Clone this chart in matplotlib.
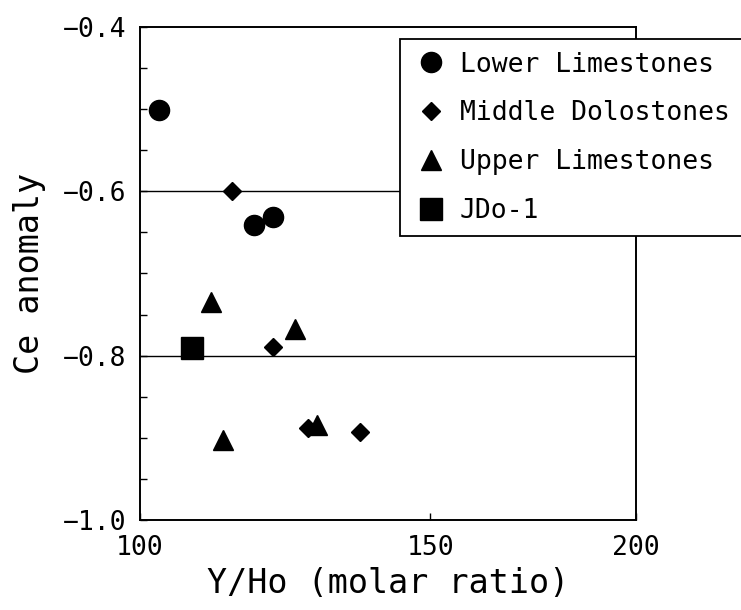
import matplotlib
matplotlib.use("Agg")
import matplotlib.pyplot as plt
from matplotlib.ticker import MultipleLocator, FixedLocator, FixedFormatter, NullLocator

# Data (Y/Ho molar ratio, Ce anomaly)
lower_x = [102.7, 117.2, 120.5]
lower_y = [-0.501, -0.641, -0.631]

middle_x = [113.7, 120.5, 126.5, 135.9]
middle_y = [-0.599, -0.790, -0.888, -0.893]

upper_x = [110.5, 124.2, 112.3, 128.0]
upper_y = [-0.735, -0.768, -0.903, -0.884]

jdo_x = [107.6]
jdo_y = [-0.791]

labels = ["Lower Limestones", "Middle Dolostones", "Upper Limestones", "JDo-1"]
x_ticks = [100, 150, 200]
x_ticklabels = ["100", "150", "200"]
y_ticks = [-1.0, -0.8, -0.6, -0.4]
y_ticklabels = ["\u22121.0", "\u22120.8", "\u22120.6", "\u22120.4"]

plt.rcParams['font.family'] = ['DejaVu Sans Mono', 'DejaVu Sans']

fig = plt.figure(figsize=(7.41, 6.10), dpi=100)
ax = fig.add_axes([140/741, 90/610, 496/741, 493/610])

ax.set_xscale('log')
ax.set_xlim(100, 200)
ax.set_ylim(-1.0, -0.4)

for yv in [-0.6, -0.8]:
    ax.axhline(yv, color='black', lw=1.0, zorder=1)

h1, = ax.plot(lower_x, lower_y, 'o', color='black', ms=14.5, ls='none', zorder=3)
h2, = ax.plot(middle_x, middle_y, 'D', color='black', ms=9.2, ls='none', zorder=3)
h3, = ax.plot(upper_x, upper_y, '^', color='black', ms=14, ls='none', zorder=3)
h4, = ax.plot(jdo_x, jdo_y, 's', color='black', ms=15.5, ls='none', zorder=3)

ax.xaxis.set_major_locator(FixedLocator(x_ticks))
ax.xaxis.set_major_formatter(FixedFormatter(x_ticklabels))
ax.xaxis.set_minor_locator(NullLocator())
ax.yaxis.set_major_locator(FixedLocator(y_ticks))
ax.yaxis.set_major_formatter(FixedFormatter(y_ticklabels))
ax.yaxis.set_minor_locator(MultipleLocator(0.05))

ax.tick_params(axis='both', which='both', direction='in', length=5, width=1.0,
               top=False, right=False, labelsize=19, colors='black')
ax.tick_params(axis='y', which='major', pad=10)
ax.tick_params(axis='x', which='major', pad=11)

for s in ax.spines.values():
    s.set_linewidth(1.4)
    s.set_color('black')

ax.set_xlabel("Y/Ho (molar ratio)", fontsize=24, labelpad=4)
ax.set_ylabel("Ce anomaly", fontsize=24, labelpad=12)

leg = fig.legend([h1, h2, h3, h4], labels, loc='upper left',
                 bbox_to_anchor=(400/741, 1 - 39/610), bbox_transform=fig.transFigure,
                 fontsize=19, frameon=True, fancybox=False, edgecolor='black',
                 framealpha=1.0, borderpad=0.48, handlelength=1.4, handletextpad=0.38,
                 labelspacing=0.86, borderaxespad=0)
leg.get_frame().set_linewidth(1.3)
leg.set_zorder(10)

fig.savefig("out.png", dpi=100)
